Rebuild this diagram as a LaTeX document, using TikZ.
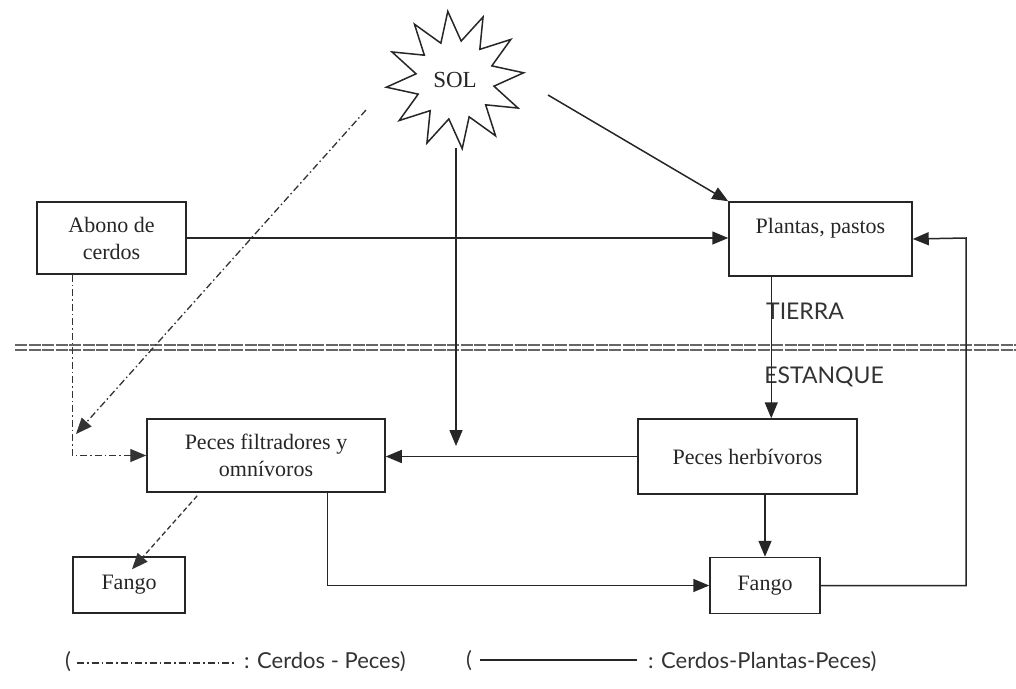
\documentclass[tikz,border=0pt]{standalone}
\usepackage{fontspec}
\setmainfont{Liberation Serif}
\newfontfamily\sansf{Lato}
\usetikzlibrary{arrows.meta,shapes.geometric}
\tikzset{
  box/.style={draw=black!85, line width=1.5pt, inner sep=0pt, align=center, font=\fontsize{22}{27}\selectfont, text=black!85},
  flow/.style={draw=black!85, line width=1.5pt, -{Triangle[length=16pt,width=13pt]}},
  cp/.style={draw=black!80, line width=1.3pt, dash pattern=on 7pt off 3pt on 1.5pt off 3pt, -{Triangle[length=16pt,width=13pt]}},
  lbl/.style={font=\sansf\fontsize{23}{27}\selectfont, text=black!80},
  leg/.style={font=\sansf\fontsize{22}{26}\selectfont, text=black!80, inner sep=0pt},
}
\begin{document}
\begin{tikzpicture}[x=1pt,y=-1pt]
\useasboundingbox (0,0) rectangle (1016,688);
% separator land / pond
\draw[black!60, line width=1.3pt, dash pattern=on 12pt off 1.5pt] (15,345) -- (1016,345);
\draw[black!60, line width=1.3pt, dash pattern=on 12pt off 1.5pt] (15,350) -- (1016,350);
% sun
\node[star, star points=12, star point ratio=1.75, minimum size=138pt, inner sep=0pt,
      shape border rotate=-24, draw=black!85, line width=1.5pt, fill=white,
      font=\fontsize{23}{26}\selectfont, text=black!85] (sun) at (455,80) {SOL};
% boxes
\node[box, minimum width=149pt, minimum height=72pt] (abono) at (111.5,238) {Abono de\\cerdos};
\node[box, minimum width=183pt, text height=31pt, text depth=43pt] (plantas) at (820.5,239) {Plantas, pastos};
\node[box, minimum width=238pt, minimum height=73pt] (pf) at (266,455.5) {Peces filtradores y\\omnívoros};
\node[box, minimum width=219pt, minimum height=75pt] (ph) at (747.5,456.5) {Peces herbívoros};
\node[box, minimum width=112pt, minimum height=56pt] (fangoL) at (129,585) {Fango};
\node[box, minimum width=110pt, minimum height=56pt] (fangoR) at (765,585.5) {Fango};
% labels
\node[lbl] (tierra) at (805,311) {TIERRA};
\node[lbl] (estanque) at (824,377) {ESTANQUE};
% helper coordinates
\coordinate (s1) at (548,95);
\coordinate (s2) at (456,148);
\coordinate (s2end) at (456,446);
\coordinate (s3) at (366,110);
\coordinate (s3end) at (76,434);
\coordinate (rc) at (966,238);
% connectors
\draw[flow] (s1) -- (plantas.north west);
\draw[flow] (s2) -- (s2end);
\draw[cp] (s3) -- (s3end);
\draw[flow] (abono.east) -- (abono.east -| plantas.west);
\draw[cp] ([xshift=36pt]abono.south west) |- (pf.west);
\draw[flow] (ph.west) -- (ph.west -| pf.east);
\draw[flow] ([xshift=43pt]plantas.south west) -- ([xshift=43pt]plantas.south west |- ph.north);
\draw[flow] (ph.south -| fangoR.north) -- (fangoR.north);
\draw[flow] ([xshift=181pt]pf.south west) |- (fangoR.west);
\draw[flow] (fangoR.east) -- (fangoR.east -| rc) -- (rc) -- (plantas.east);
\draw[cp, dash pattern=on 5pt off 3pt] ([xshift=51pt,yshift=-3pt]pf.south west) -- ([xshift=3pt,yshift=-13pt]fangoL.north);
% legend
\node[leg] (lp1) at (68,662) {(};
\draw[black!80, line width=1.2pt, dash pattern=on 7pt off 3pt on 1.5pt off 3pt] (77,663) -- (234,663);
\node[leg, anchor=west] (lt1) at (244,662) {: Cerdos - Peces)};
\node[leg] (lp2) at (469,661) {(};
\draw[black!85, line width=1.4pt] (480,660) -- (637,660);
\node[leg, anchor=west] (lt2) at (648,662) {: Cerdos-Plantas-Peces)};
\end{tikzpicture}
\end{document}
